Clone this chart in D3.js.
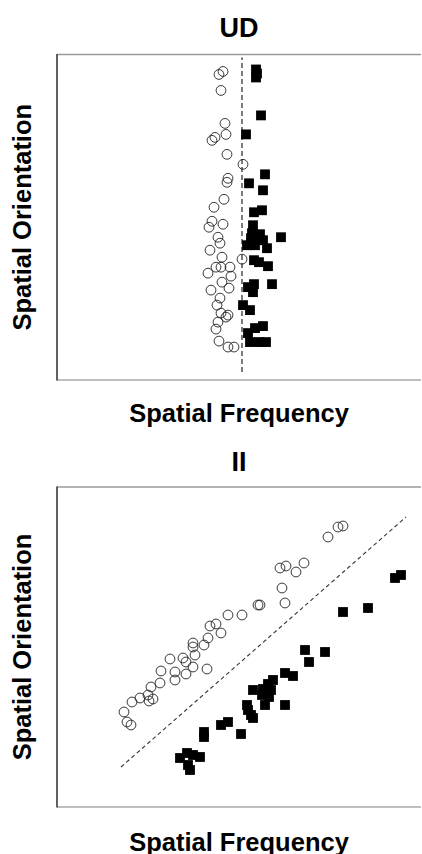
<!DOCTYPE html>
<html>
<head>
<meta charset="utf-8">
<script src="https://cdn.jsdelivr.net/npm/d3@7"></script>
<style>
  html, body { margin: 0; padding: 0; background: #fff; }
  svg { display: block; }
  text { font-family: "Liberation Sans", Arial, Helvetica, sans-serif; font-weight: bold; fill: #000; }
</style>
</head>
<body>
<script>
// panel titles
var titles = ['UD', 'II']

// UD panel: open circles [freq, orient]
var udCircles = [
  [16.6, 30.9], [16.2, 30.6], [16.4, 29.0], [16.8, 25.7], [16.9, 24.6], [15.8, 24.3],
  [15.5, 24.0], [17.0, 22.6], [18.6, 21.6], [17.1, 20.2], [17.0, 19.8], [16.7, 18.1],
  [15.7, 17.3], [15.5, 15.9], [15.2, 15.3], [16.6, 15.6], [16.1, 14.3], [16.3, 13.7],
  [15.3, 13.0], [16.5, 12.3], [18.5, 12.1], [15.9, 11.3], [16.4, 11.3], [17.3, 11.3],
  [15.1, 10.7], [17.4, 10.4], [16.5, 9.8], [17.2, 9.2], [15.4, 9.0], [16.3, 8.2],
  [16.0, 7.5], [16.4, 6.7], [17.1, 6.5], [16.9, 6.3], [16.1, 5.8], [15.9, 5.1],
  [16.2, 3.9], [17.1, 3.3], [17.7, 3.3]
]

// UD panel: filled squares
var udSquares = [
  [19.9, 31.1], [20.0, 30.7], [19.9, 30.3], [20.4, 26.5], [18.9, 24.6], [20.8, 20.6],
  [19.2, 19.7], [20.6, 19.0], [20.5, 17.0], [19.7, 16.8], [19.6, 15.5], [19.5, 14.7],
  [20.3, 14.6], [22.4, 14.3], [20.0, 14.1], [20.6, 14.0], [19.0, 13.5], [19.8, 13.5],
  [21.0, 13.2], [19.4, 14.2], [19.7, 12.0], [20.2, 11.8], [21.1, 11.4], [19.7, 9.6],
  [21.5, 9.6], [19.1, 9.3], [19.6, 8.8], [18.6, 7.5], [19.3, 7.0], [20.6, 5.4],
  [19.8, 5.2], [19.1, 4.7], [19.3, 3.8], [20.2, 3.8], [20.9, 3.8]
]

// II panel: open circles
var iiCircles = [
  [28.6, 28.1], [28.1, 28.0], [27.1, 27.0], [24.7, 24.4], [22.9, 24.1], [22.3, 23.9],
  [23.9, 23.5], [22.5, 21.9], [22.8, 20.4], [20.3, 20.2], [20.1, 20.2], [18.5, 19.2],
  [17.1, 19.2], [15.9, 18.3], [15.3, 18.1], [16.4, 17.4], [15.1, 16.9], [13.6, 16.4],
  [14.7, 16.2], [13.6, 16.0], [13.8, 15.2], [12.6, 14.9], [11.3, 14.8], [12.9, 14.5],
  [13.6, 14.0], [15.0, 13.8], [10.4, 13.6], [11.8, 13.5], [12.9, 13.3], [11.8, 12.7],
  [10.3, 12.4], [9.4, 12.0], [9.1, 11.2], [8.3, 10.9], [7.5, 10.5], [9.6, 10.8],
  [9.2, 10.6], [6.7, 9.5], [7.0, 8.5], [7.4, 8.2]
]

// II panel: filled squares
var iiSquares = [
  [34.4, 23.2], [33.8, 22.9], [31.1, 19.9], [28.6, 19.5], [26.8, 15.5], [24.8, 15.7],
  [25.2, 14.5], [22.8, 13.4], [23.6, 13.1], [21.6, 12.7], [21.1, 12.3], [19.6, 11.7],
  [20.6, 11.8], [21.4, 11.7], [20.5, 11.2], [21.2, 11.0], [22.8, 10.2], [20.8, 10.2],
  [19.0, 10.2], [19.1, 9.7], [19.4, 9.2], [19.6, 8.9], [16.4, 8.2], [17.1, 8.5],
  [18.4, 7.3], [14.7, 7.5], [14.7, 7.0], [12.3, 4.9], [13.0, 5.4], [13.6, 5.2],
  [14.3, 5.0], [13.1, 4.2], [13.3, 3.7]
]

// dashed reference lines, [start, end]
var udRef = [[18.5, 0.8], [18.5, 32.3]]
var iiRef = [[6.4, 4.0], [34.9, 29.0]]

var xDomain = [0, 36.4]
var udYDomain = [0, 32.6]
var iiYDomain = [0, 32.0]

var W = 422, H = 854

var svg = d3.select('body').append('svg')
  .attr('width', W)
  .attr('height', H)

function drawPanel(cfg) {
  var x = d3.scaleLinear().domain(xDomain).range([cfg.left, cfg.right])
  var y = d3.scaleLinear().domain(cfg.yDomain).range([cfg.bottom, cfg.top])
  var g = svg.append('g')

  // frame: dark left, gray top/bottom, no right side
  g.append('line')
    .attr('x1', cfg.left).attr('x2', cfg.right)
    .attr('y1', cfg.top).attr('y2', cfg.top)
    .attr('stroke', '#9a9a9a').attr('stroke-width', 1.3)
  g.append('line')
    .attr('x1', cfg.left).attr('x2', cfg.right)
    .attr('y1', cfg.bottom).attr('y2', cfg.bottom)
    .attr('stroke', '#aaa').attr('stroke-width', 1.3)
  g.append('line')
    .attr('x1', cfg.left).attr('x2', cfg.left)
    .attr('y1', cfg.top - 0.6).attr('y2', cfg.bottom + 0.6)
    .attr('stroke', '#3a3a3a').attr('stroke-width', 1.6)

  g.append('line')
    .attr('x1', x(cfg.ref[0][0])).attr('y1', y(cfg.ref[0][1]))
    .attr('x2', x(cfg.ref[1][0])).attr('y2', y(cfg.ref[1][1]))
    .attr('stroke', '#333')
    .attr('stroke-width', cfg.refWidth)
    .attr('stroke-dasharray', cfg.dash)

  var s = 9.8
  g.selectAll('rect.sq')
    .data(cfg.squares)
    .enter().append('rect')
    .attr('class', 'sq')
    .attr('x', function (d) { return x(d[0]) - s / 2 })
    .attr('y', function (d) { return y(d[1]) - s / 2 })
    .attr('width', s).attr('height', s)
    .attr('fill', '#000')

  g.selectAll('circle.pt')
    .data(cfg.circles)
    .enter().append('circle')
    .attr('class', 'pt')
    .attr('cx', function (d) { return x(d[0]) })
    .attr('cy', function (d) { return y(d[1]) })
    .attr('r', 4.9)
    .attr('fill', 'none')
    .attr('stroke', '#222')
    .attr('stroke-width', 0.9)

  var cx = (cfg.left + cfg.right) / 2
  g.append('text')
    .attr('x', cx).attr('y', cfg.titleY)
    .attr('text-anchor', 'middle')
    .style('font-size', '27px')
    .text(cfg.title)

  g.append('text')
    .attr('x', cx).attr('y', cfg.xLabelY)
    .attr('text-anchor', 'middle')
    .style('font-size', '25.5px')
    .text('Spatial Frequency')

  var cy = (cfg.top + cfg.bottom) / 2
  g.append('text')
    .attr('transform', 'translate(31,' + cy + ') rotate(-90)')
    .attr('text-anchor', 'middle')
    .style('font-size', '25.5px')
    .text('Spatial Orientation')
}

drawPanel({
  title: titles[0], left: 57, right: 421, top: 54.5, bottom: 380,
  yDomain: udYDomain, circles: udCircles, squares: udSquares,
  ref: udRef, dash: '5,3', refWidth: 1.3, titleY: 37, xLabelY: 421.5
})

drawPanel({
  title: titles[1], left: 57, right: 421, top: 487, bottom: 807,
  yDomain: iiYDomain, circles: iiCircles, squares: iiSquares,
  ref: iiRef, dash: '4,3', refWidth: 1.1, titleY: 471, xLabelY: 850.5
})
</script>
</body>
</html>
